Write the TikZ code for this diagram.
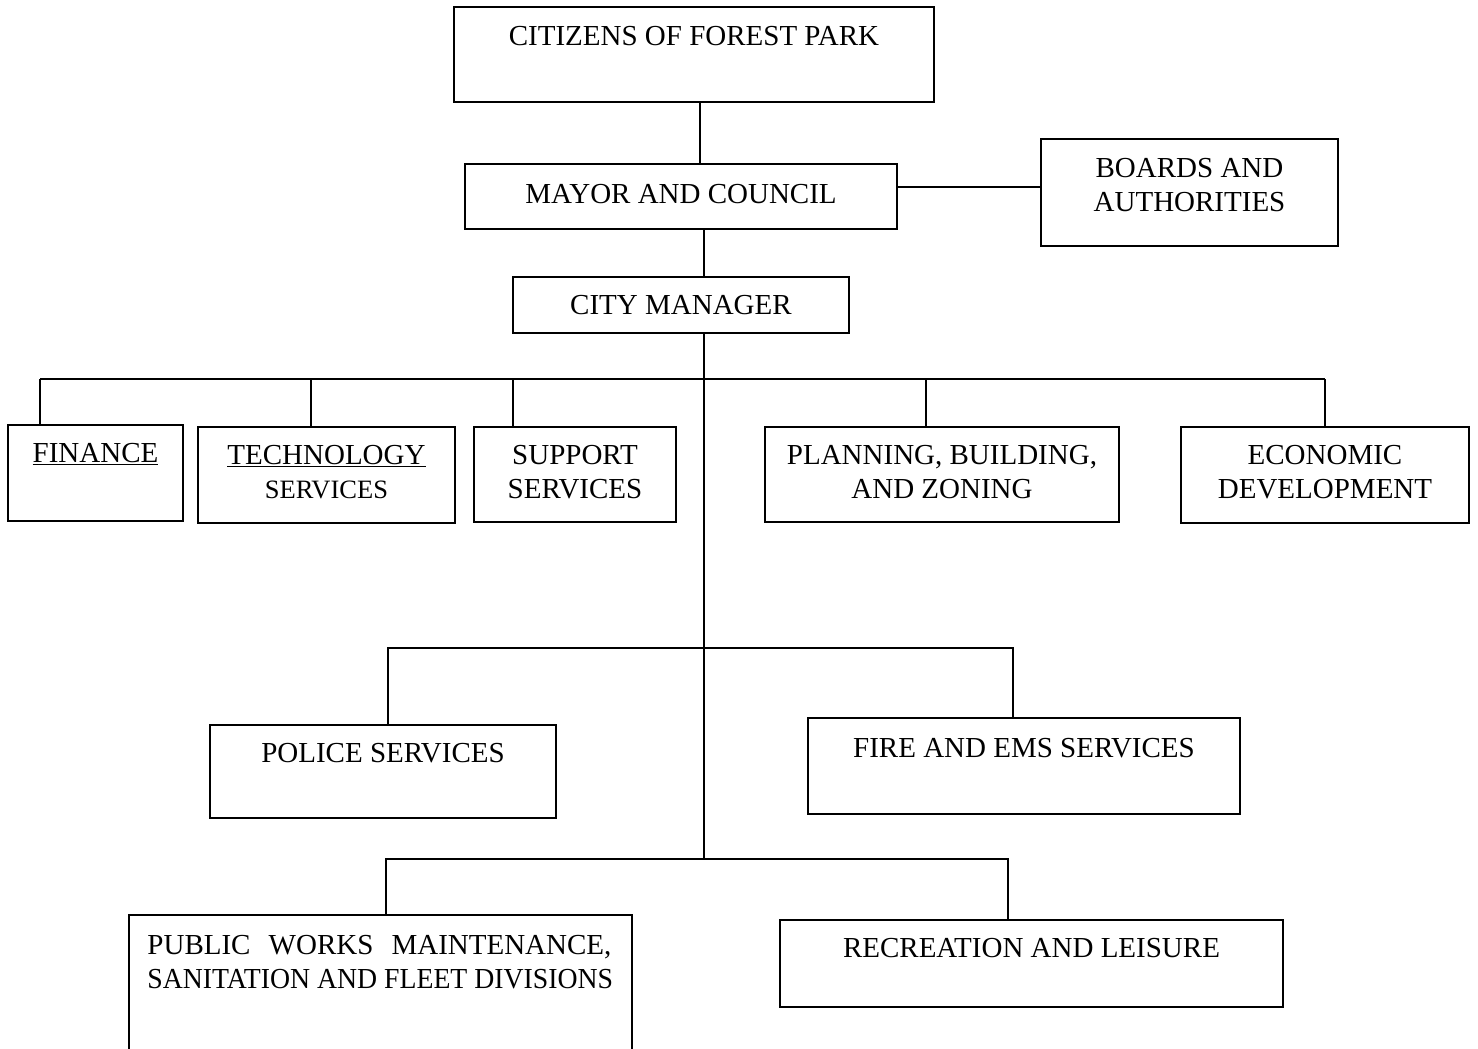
\documentclass[tikz,border=0pt]{standalone}
\usepackage{fontspec}
\setmainfont{Liberation Serif}
\usepackage{graphicx}
\usetikzlibrary{positioning}

\begin{document}
\begin{tikzpicture}[
    x=1pt, y=-1pt,
    every node/.style={font=\fontsize{29}{34}\selectfont},
    box/.style={rectangle, draw, line width=1.5pt, inner sep=0pt},
    txt/.style={inner sep=0pt, align=center},
    link/.style={line width=1.5pt}
  ]
  \useasboundingbox (0,0) rectangle (1478,1049);
  \clip (0,0) rectangle (1478,1049);

  % top of the chart
  \node[box, minimum width=480pt, minimum height=95pt] (cit) at (694,54.5) {};
  \node[txt, below=20pt of cit.north] (citT) {CITIZENS OF FOREST PARK};

  \node[box, minimum width=432pt, minimum height=65pt] (mayor) at (681,196.5) {};
  \node[txt, below=21pt of mayor.north] (mayorT) {MAYOR AND COUNCIL};

  \node[box, minimum width=297pt, minimum height=107pt] (boards) at (1189.5,192.5) {};
  \node[txt, below=20pt of boards.north] (boardsT) {BOARDS AND\\AUTHORITIES};

  \node[box, minimum width=336pt, minimum height=56pt] (mgr) at (681,305) {};
  \node[txt, below=19pt of mgr.north] (mgrT) {CITY MANAGER};

  % departments
  \node[box, minimum width=175pt, minimum height=96pt] (fin) at (95.5,473) {};
  \node[txt, below=19pt of fin.north] (finT) {\underline{FINANCE}};

  \node[box, minimum width=257pt, minimum height=96pt] (tech) at (326.5,475) {};
  \node[txt, below=19pt of tech.north] (techT) {\underline{TECHNOLOGY}\\{\fontsize{26.5}{34}\selectfont SERVICES}};

  \node[box, minimum width=202pt, minimum height=95pt] (sup) at (575,474.5) {};
  \node[txt, below=19pt of sup.north] (supT) {SUPPORT\\SERVICES};

  \node[box, minimum width=354pt, minimum height=95pt] (plan) at (942,474.5) {};
  \node[txt, below=19pt of plan.north] (planT) {PLANNING, BUILDING,\\AND ZONING};

  \node[box, minimum width=288pt, minimum height=96pt] (eco) at (1325,475) {};
  \node[txt, below=19pt of eco.north] (ecoT) {ECONOMIC\\DEVELOPMENT};

  \node[box, minimum width=346pt, minimum height=93pt] (police) at (383,771.5) {};
  \node[txt, below=19pt of police.north] (policeT) {POLICE SERVICES};

  \node[box, minimum width=432pt, minimum height=96pt] (fire) at (1024,766) {};
  \node[txt, below=21pt of fire.north] (fireT) {FIRE AND EMS SERVICES};

  \node[box, minimum width=503pt, minimum height=160pt] (pw) at (380.5,995) {};
  \node[txt, align=left, below right=21pt and 19pt of pw.north west] (pwT)
    {\makebox[464pt][s]{PUBLIC WORKS MAINTENANCE,}\\\scalebox{0.957}[1]{SANITATION AND FLEET DIVISIONS}};

  \node[box, minimum width=503pt, minimum height=87pt] (rec) at (1031.5,963.5) {};
  \node[txt, below=19pt of rec.north] (recT) {RECREATION AND LEISURE};

  % connectors
  \coordinate (trunk) at (704,0);
  \draw[link] (cit.south -| 700,0) -- (mayor.north -| 700,0);
  \draw[link] (mayor.east |- 0,187) -- (boards.west |- 0,187);
  \draw[link] (mayor.south -| trunk) -- (mgr.north -| trunk);
  \draw[link] (mgr.south -| trunk) -- (trunk |- 0,859);

  \draw[link] (40,379) -- (1325,379);
  \foreach \n/\x in {fin/40, tech/311, sup/513, plan/926, eco/1325}
    \draw[link] (\x,379) -- (\n.north -| \x,0);

  \draw[link] (police.north -| 388,0) |- (1013,648) -- (fire.north -| 1013,0);
  \draw[link] (pw.north -| 386,0) |- (1008,859) -- (rec.north -| 1008,0);

\end{tikzpicture}
\end{document}
